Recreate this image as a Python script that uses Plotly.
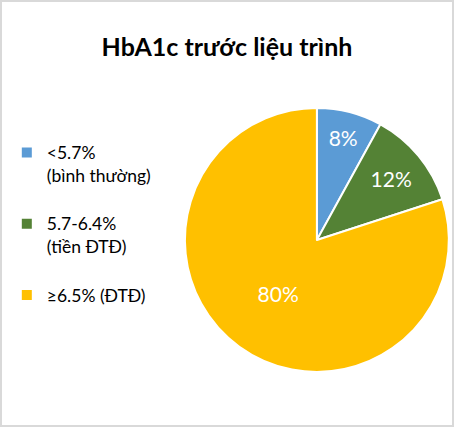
import plotly.graph_objects as go

labels = ["<5.7%<br>(bình thường)", "5.7-6.4%<br>(tiền ĐTĐ)", "≥6.5% (ĐTĐ)"]
values = [8, 12, 80]
colors = ["#5B9BD5", "#548235", "#FFC000"]

W, H = 454, 427
# blank line after each entry gives the spacing seen between legend entries
legend_labels = [lab + "<br> " for lab in labels]

fig = go.Figure(go.Pie(
    labels=legend_labels,
    values=values,
    sort=False,
    direction="clockwise",
    rotation=0,
    marker=dict(colors=colors, line=dict(color="white", width=2)),
    textinfo="percent",
    texttemplate="%{percent:.0%}",
    textposition="inside",
    insidetextorientation="horizontal",
    textfont=dict(family="Lato", size=21, color="white"),
    domain=dict(x=[0.407, 0.989], y=[0.129, 0.747]),
))

fig.update_layout(
    width=W, height=H,
    margin=dict(l=0, r=0, t=0, b=0),
    paper_bgcolor="white",
    title=dict(text="<b>HbA1c trước liệu trình</b>", x=0.5, xanchor="center",
               y=1 - 47/H, yanchor="middle",
               font=dict(family="Lato", size=25, color="black")),
    legend=dict(x=0.015, y=0.685, xanchor="left", yanchor="top",
                valign="top", tracegroupgap=0,
                font=dict(family="Lato", size=17.5, color="black")),
    shapes=[dict(type="rect", xref="paper", yref="paper",
                 x0=1/W, y0=1/H, x1=1 - 1/W, y1=1 - 1/H,
                 line=dict(color="#D9D9D9", width=2))],
)

fig.write_html("out.html", config={"displayModeBar": False},
               post_script="document.body.style.margin='0';")
